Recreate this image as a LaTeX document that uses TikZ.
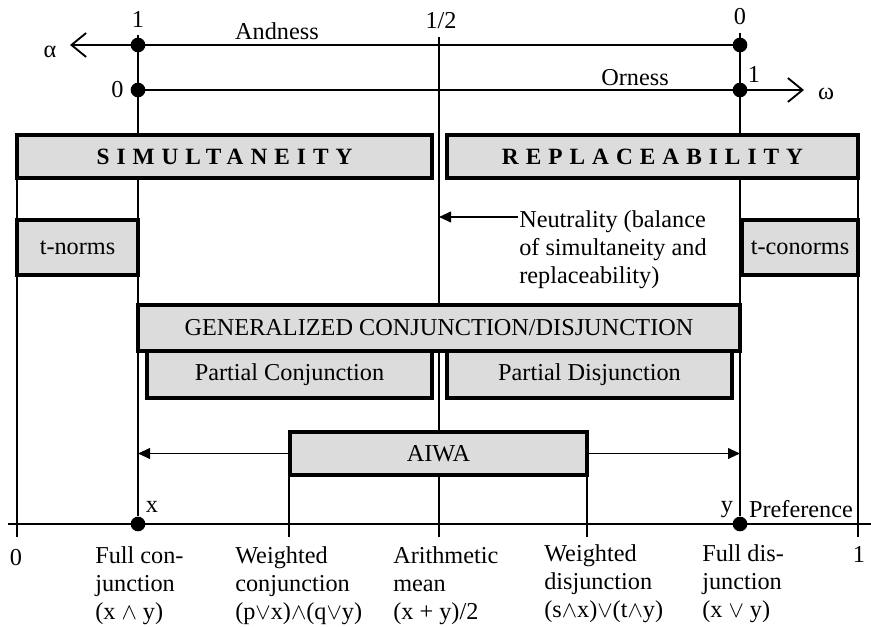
\documentclass[tikz,border=0pt]{standalone}
\usepackage{fontspec}
\setmainfont{Liberation Serif}
\usetikzlibrary{fit,positioning,arrows.meta}
\definecolor{mygray}{RGB}{220,220,220}

\begin{document}
\begin{tikzpicture}[x=0.75pt,y=-0.75pt,inner sep=0pt,font=\fontsize{18.2}{21}\selectfont]
\tikzstyle{bar}=[rectangle, draw=black, line width=2.5pt, fill=mygray]
\tikzstyle{rule}=[line width=1.4pt]
\tikzstyle{dot}=[circle, fill=black, minimum size=11pt]
\tikzstyle{barb}=[-{Straight Barb[length=11pt,width=18pt]}]
\tikzstyle{tri}=[-{Triangle[length=9pt,width=8pt]}]
\tikzstyle{col}=[anchor=north west, align=left]
\tikzstyle{spaced}=[font=\fontsize{17.5}{21}\selectfont\bfseries\addfontfeature{LetterSpace=30}]
\useasboundingbox (0,0) rectangle (871,627);
% end points of the lines
\coordinate (lt) at (17,135); \coordinate (lb) at (17,537);
\coordinate (rt) at (858,135); \coordinate (rb) at (858,537);
\coordinate (ht) at (439,37); \coordinate (hb) at (439,537);
\coordinate (xt) at (138,35); \coordinate (yt) at (740,33);
\coordinate (axl) at (8,524); \coordinate (axr) at (871,524);
\coordinate (wct) at (289,475); \coordinate (wcb) at (289,537);
\coordinate (wdt) at (587,475); \coordinate (wdb) at (587,537);
\coordinate (aend) at (70,45); \coordinate (oend) at (804,90);
\coordinate (ntail) at (518,217);
% dots
\node[dot] (a1) at (138,45) {};
\node[dot] (o0) at (138,90) {};
\node[dot] (a0) at (740,45) {};
\node[dot] (o1) at (740,90) {};
\node[dot] (x) at (138,524) {};
\node[dot] (y) at (740,524) {};
% lines
\draw[rule] (xt) -- (x);
\draw[rule] (yt) -- (y);
\draw[rule] (ht) -- (hb);
\draw[rule] (lt) -- (lb);
\draw[rule] (rt) -- (rb);
\draw[rule] (wct) -- (wcb);
\draw[rule] (wdt) -- (wdb);
\draw[rule] (axl) -- (axr);
\draw[rule,barb] (a0.center) -- (aend);
\draw[rule,barb] (o0.center) -- (oend);
\draw[rule,tri] (ntail) -- (ntail -| ht);
% boxes
\node[bar, fit={(17,135) (432,178)}, label={[spaced]center:SIMULTANEITY}] (simul) {};
\node[bar, fit={(447,135) (858,178)}, label={[spaced]center:REPLACEABILITY}] (repl) {};
\node[bar, fit={(17,220) (138,275)}, label=center:t-norms] (tnorm) {};
\node[bar, fit={(742,220) (858,275)}, label=center:t-conorms] (tconorm) {};
\node[bar, fit={(138,305) (740,351)}, label=center:GENERALIZED CONJUNCTION/DISJUNCTION] (gcd) {};
\node[bar, fit={(147,351) (432,398)}, label=center:Partial Conjunction] (pconj) {};
\node[bar, fit={(447,351) (732,398)}, label=center:Partial Disjunction] (pdisj) {};
\node[bar, fit={(290,432) (587,475)}, label=center:AIWA] (aiwa) {};
\draw[rule,tri] (aiwa.west) -- (aiwa.west -| x);
\draw[rule,tri] (aiwa.east) -- (aiwa.east -| y);
% labels
\node (a1lab) [above=7.5pt of a1] {1};
\node[anchor=base] (halflab) at (441,29) {1/2};
\node[anchor=base] (a0lab) at (740,25) {0};
\node (o0lab) [left=5pt of o0] {0};
\node[anchor=base] (o1lab) at (754,83) {1};
\node[anchor=base] (alab) at (50,58) {α};
\node[anchor=base] (wlab) at (826,100) {ω};
\node[anchor=base] (andness) at (277,40) {Andness};
\node[anchor=base] (orness) at (635,86) {Orness};
\node[col] (neutral) at (519,210) {Neutrality (balance\\of simultaneity and\\replaceability)};
\node[anchor=base] (xlab) at (152,512) {x};
\node[anchor=base] (ylab) at (727,512) {y};
\node[anchor=base] (pref) at (801,517) {Preference};
\node[anchor=base] (zero) at (16,565) {0};
\node[anchor=base] (one) at (859,562) {1};
\node[col] (fconj) at (95,546) {Full con-\\junction\\(x $\wedge$ y)};
\node[col] (wconj) at (235,546) {Weighted\\conjunction\\(p$\vee$x)$\wedge$(q$\vee$y)};
\node[col] (amean) at (393,546) {Arithmetic\\mean\\(x + y)/2};
\node[col] (wdisj) at (544,544) {Weighted\\disjunction\\(s$\wedge$x)$\vee$(t$\wedge$y)};
\node[col] (fdisj) at (702,544) {Full dis-\\junction\\(x $\vee$ y)};
\end{tikzpicture}
\end{document}
